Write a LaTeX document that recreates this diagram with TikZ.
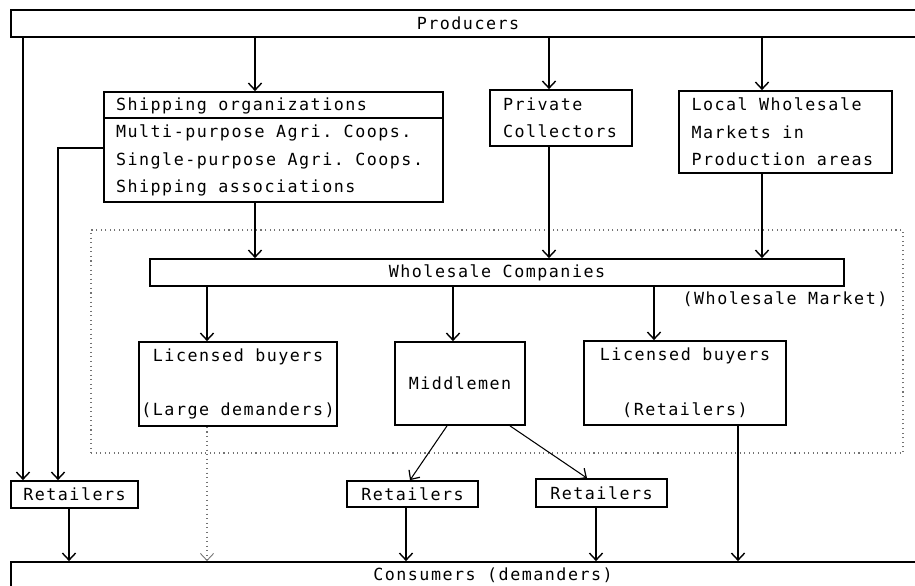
\documentclass[tikz,border=0pt]{standalone}
\usepackage{fontspec}
\setmonofont{DejaVu Sans Mono}[LetterSpace=9]
\usetikzlibrary{arrows.meta}
\newdimen\px \px=0.02cm
\newcommand\chartfont{\ttfamily\fontsize{9.5}{15.6}\selectfont\spaceskip 6.5pt\relax}
\begin{document}
\begin{tikzpicture}[x=1\px,y=-1\px,
  every node/.style={font=\chartfont},
  box/.style={draw,line width=1pt,inner sep=0pt},
  flow/.style={line width=1pt,-{Straight Barb[length=4pt,width=7.5pt,line width=0.8pt]}},
  slant/.style={line width=0.6pt,-{Straight Barb[length=4pt,width=7.5pt,line width=0.7pt]}},
  faint/.style={draw=black!55,dotted,line width=0.6pt},
  faintflow/.style={draw=black!55,dotted,line width=0.6pt,-{Straight Barb[length=4pt,width=7.5pt,line width=0.5pt]}}]
\useasboundingbox (0,0) rectangle (915,585);
\clip (0,0) rectangle (915,585);
\fill[white] (0,0) rectangle (915,585);

% wholesale market area
\node[faint,minimum width=812\px,minimum height=223\px] (market) at (497,341.5) {};

% top level
\node[box,minimum width=914\px,minimum height=27\px] (prod) at (468,23.5) {Producers};

% collection stage
\node[box,minimum width=339\px,minimum height=110\px,text width=315\px,align=flush left] (ship) at (273.5,147)
  {Shipping organizations\\Multi-purpose Agri. Coops.\\Single-purpose Agri. Coops.\\Shipping associations};
\draw[line width=0.8pt] (ship.west |- 0,118) -- (ship.east |- 0,118);
\node[box,minimum width=142\px,minimum height=56\px,text width=116\px,align=flush left] (priv) at (561,118)
  {Private\\Collectors};
\node[box,minimum width=213\px,minimum height=82\px,text width=188\px,align=flush left] (local) at (785.5,132)
  {Local Wholesale\\Markets in\\Production areas};

% wholesale market
\node[box,minimum width=694\px,minimum height=27\px] (wc) at (497,272.5) {Wholesale Companies};
\node (wm) at (785,299) {(Wholesale Market)};
\node[box,minimum width=198\px,minimum height=84\px,align=center] (lbl) at (238,384)
  {Licensed buyers\\~\\(Large demanders)};
\node[box,minimum width=130\px,minimum height=83\px] (mid) at (460,383.5) {Middlemen};
\node[box,minimum width=202\px,minimum height=84\px,align=center] (lbr) at (685,383)
  {Licensed buyers\\~\\(Retailers)};

% retail stage
\node[box,minimum width=127\px,minimum height=27\px] (ret1) at (74.5,494.5) {Retailers};
\node[box,minimum width=131\px,minimum height=26\px] (ret2) at (412.5,494) {Retailers};
\node[box,minimum width=131\px,minimum height=28\px] (ret3) at (601.5,493) {Retailers};
\node[box,minimum width=964\px,minimum height=26\px] (cons) at (493,575) {Consumers (demanders)};

% flows from producers
\draw[flow] (prod.south -| 23,0) -- (ret1.north -| 23,0);
\draw[flow] (prod.south -| 255,0) -- (ship.north -| 255,0);
\draw[flow] (prod.south -| 549,0) -- (priv.north -| 549,0);
\draw[flow] (prod.south -| 762,0) -- (local.north -| 762,0);
\draw[flow] (ship.west |- 0,148) -| (ret1.north -| 58,0);

% into the wholesale companies
\draw[flow] (ship.south -| 255,0) -- (wc.north -| 255,0);
\draw[flow] (priv.south -| 549,0) -- (wc.north -| 549,0);
\draw[flow] (local.south -| 762,0) -- (wc.north -| 762,0);

% out of the wholesale companies
\draw[flow] (wc.south -| 207,0) -- (lbl.north -| 207,0);
\draw[flow] (wc.south -| 453,0) -- (mid.north -| 453,0);
\draw[flow] (wc.south -| 654,0) -- (lbr.north -| 654,0);
\draw[slant] (mid.south -| 447,0) -- (ret2.north -| 410,0);
\draw[slant] (mid.south -| 510,0) -- (ret3.north -| 587,0);

% to consumers
\draw[flow] (ret1.south -| 69,0) -- (cons.north -| 69,0);
\draw[faintflow] (lbl.south -| 207,0) -- (cons.north -| 207,0);
\draw[flow] (ret2.south -| 406,0) -- (cons.north -| 406,0);
\draw[flow] (ret3.south -| 596,0) -- (cons.north -| 596,0);
\draw[flow] (lbr.south -| 738,0) -- (cons.north -| 738,0);
\end{tikzpicture}
\end{document}
